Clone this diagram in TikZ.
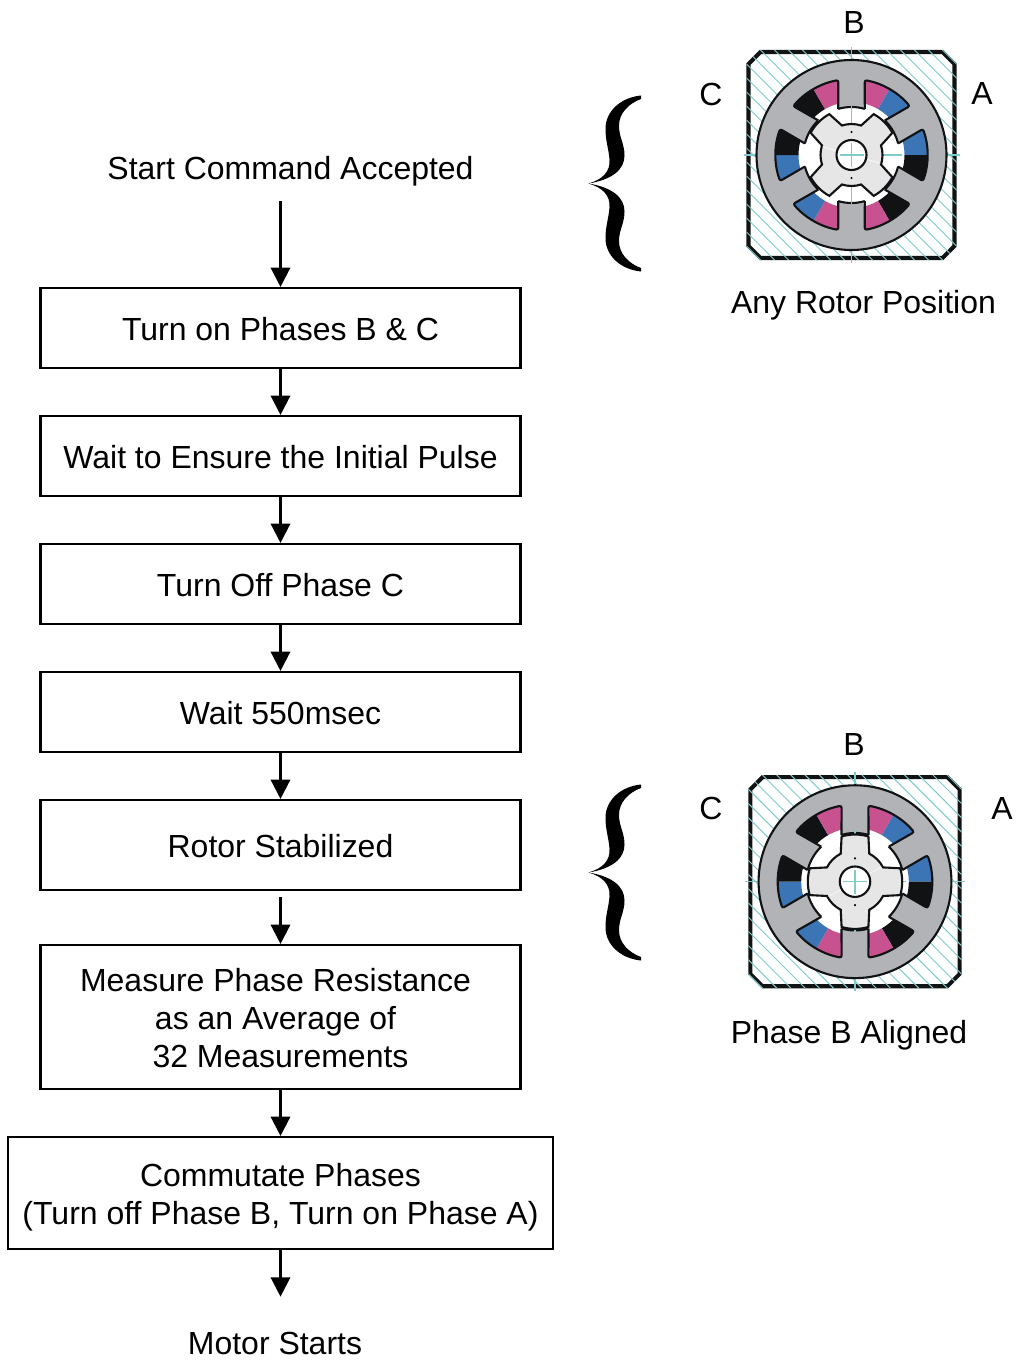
\documentclass[tikz,border=0pt]{standalone}
\usepackage{fontspec}
\setmainfont{Liberation Sans}
\usetikzlibrary{arrows.meta}
\definecolor{statorgray}{HTML}{B1B3B6}
\definecolor{rotorgray}{HTML}{E6E6E6}
\definecolor{windpink}{HTML}{C7528F}
\definecolor{windblue}{HTML}{3B75B5}
\definecolor{windblack}{HTML}{111213}
\definecolor{hatchteal}{HTML}{7FCBCA}
\newcommand{\curlybrace}[2]{%
  \begin{scope}[shift={(#1,#2)}]
    \foreach \s in {1,-1}
      \fill [black,yscale=\s] (0,0) .. controls (14,4) and (22,12) .. (21,24)
        .. controls (20,36) and (17,42) .. (17,55)
        .. controls (17,72) and (32,86) .. (52.5,88) -- (52.5,84.5)
        .. controls (40,80) and (30.5,70) .. (30.5,58)
        .. controls (30.5,46) and (36,40) .. (36,28)
        .. controls (36,14) and (24,4) .. (0,0);
  \end{scope}}
\newcommand{\motor}[4]{%
  \begin{scope}[shift={(#1,#2)},scale=#3]
    \draw [windblack,line width=2.3pt] (-103,91) -- (-91,103) -- (91,103) -- (103,91)
      -- (103,-91) -- (91,-103) -- (-91,-103) -- (-103,-91) -- cycle;
    \begin{scope}
      \clip (-105,92) -- (-92,105) -- (92,105) -- (105,92) -- (105,-92) -- (92,-105)
        -- (-92,-105) -- (-105,-92) -- cycle;
      \foreach \d in {-210,-196,...,210}
        \draw [hatchteal,line width=0.55pt] (\d-110,110) -- (\d+110,-110);
    \end{scope}
    \draw [hatchteal,line width=0.6pt] (0,108) -- (0,-108);
    \draw [hatchteal,line width=0.6pt] (-108,0) -- (108,0);
    \filldraw [fill=statorgray,draw=windblack,line width=1.2pt] (0,0) circle (95);
    \fill [white] (0,0) circle (48);
    \foreach \a/\cp/\cm in {60/windpink/windblue,0/windblue/windblack,-60/windblack/windpink,
        -120/windpink/windblue,180/windblue/windblack,120/windblack/windpink} {
      \fill [white] (\a+13.9:48) -- (\a+20:76) arc (\a+20:\a-20:76) -- (\a-13.9:48) -- cycle;
      \fill [\cp] (\a:53) -- (\a:76) arc (\a:\a+20:76) -- (\a+15:53) arc (\a+15:\a:53) -- cycle;
      \fill [\cm] (\a:53) -- (\a:76) arc (\a:\a-20:76) -- (\a-15:53) arc (\a-15:\a:53) -- cycle;
      \draw [windblack,line width=1.2pt,rounded corners=1.2pt] (\a+13.9:48) -- (\a+20:76)
        arc (\a+20:\a-20:76) -- (\a-13.9:48);
      \draw [windblack,line width=1.2pt] (\a+13.9:48) arc (\a+13.9:\a+46.1:48);
    }
    \draw [hatchteal,line width=0.6pt] (0,50) -- (0,-50);
    \draw [hatchteal,line width=0.6pt] (0,0) -- (50,0);
    \begin{scope}[rotate=#4]
      \filldraw [fill=rotorgray,draw=windblack,line width=1.2pt] (72:31)
        \foreach \a in {0,-90,-180,-270} {
          -- (\a+61.5:46.5) arc (\a+61.5:\a+28.5:46.5) -- (\a+18:31) arc (\a+18:\a-18:31)
        } -- cycle;
      \draw [white,line width=0.3pt] (164:30) -- (-16:30);
    \end{scope}
    \fill [black] (0,23) circle (1.2);
    \fill [black] (0,-23) circle (1.2);
    \filldraw [fill=white,draw=windblack,line width=1.2pt] (0,0) circle (15);
    \draw [hatchteal,line width=0.6pt] (-12,0) -- (12,0);
    \draw [hatchteal,line width=0.6pt] (0,12) -- (0,-12);
  \end{scope}}
\begin{document}
\begin{tikzpicture}[x=0.02cm,y=0.02cm]
    \tikzstyle{every node}+=[inner sep=0pt,font=\fontsize{18.2}{21.8}\selectfont]
    \tikzstyle{flowbox}=[draw=black,line width=1.2pt,align=center,minimum width=9.6cm,minimum height=1.6cm]
    \tikzstyle{oneline}=[text height=14.2pt,text depth=0pt]
    \tikzstyle{flowarrow}=[draw=black,line width=1.35pt,-{Triangle[length=11pt,width=11pt]}]
    \useasboundingbox (0,0) rectangle (1019,-1362);
    \node (start) [minimum height=1.18cm] at (290.5,-171) {Start Command Accepted};
    \node [flowbox,oneline] (phasesbc) at (280.5,-328) {Turn on Phases B \& C};
    \node [flowbox,oneline] (waitpulse) at (280.5,-456) {Wait to Ensure the Initial Pulse};
    \node [flowbox,oneline] (phasecoff) at (280.5,-584) {Turn Off Phase C};
    \node [flowbox,oneline] (waitmsec) at (280.5,-712) {Wait 550msec};
    \node [flowbox,oneline,minimum height=1.8cm] (stabilized) at (280.5,-845) {Rotor Stabilized};
    \node [flowbox,minimum height=2.88cm] (measure) at (280.5,-1017) {\rule{0pt}{14.3pt}Measure Phase Resistance\hspace*{5.6pt}\mbox{}\\as an Average of\hspace*{5.6pt}\mbox{}\\32 Measurements};
    \node [flowbox,minimum width=10.9cm,minimum height=2.24cm] (commutate) at (280.5,-1193) {\rule{0pt}{18pt}Commutate Phases\\(Turn off Phase B, Turn on Phase A)};
    \node (motorstarts) [minimum height=1.84cm] at (275,-1343) {Motor Starts};
    \draw [flowarrow] (start.south -| phasesbc.north) -- (phasesbc.north);
    \draw [flowarrow] (phasesbc) -- (waitpulse);
    \draw [flowarrow] (waitpulse) -- (phasecoff);
    \draw [flowarrow] (phasecoff) -- (waitmsec);
    \draw [flowarrow] (waitmsec) -- (stabilized);
    \draw [flowarrow] ([yshift=-3.4pt]stabilized.south) -- (measure);
    \draw [flowarrow] (measure) -- (commutate);
    \draw [flowarrow] (commutate.south) -- (commutate.south |- motorstarts.north);
    \curlybrace{588.5}{-183.5}
    \curlybrace{588.5}{-872.5}
    \motor{851.5}{-155}{1}{0}
    \motor{855}{-881.7}{1.015}{45}
    \node (topb) at (854,-23) {B};
    \node (topc) at (711,-94) {C};
    \node (topa) at (982,-94) {A};
    \node (anyrotor) at (863.5,-305.5) {Any Rotor Position};
    \node (lowb) at (854,-744) {B};
    \node (lowc) at (711,-808) {C};
    \node (lowa) at (1002,-808) {A};
    \node (aligned) at (849,-1035.5) {Phase B Aligned};
\end{tikzpicture}
\end{document}
